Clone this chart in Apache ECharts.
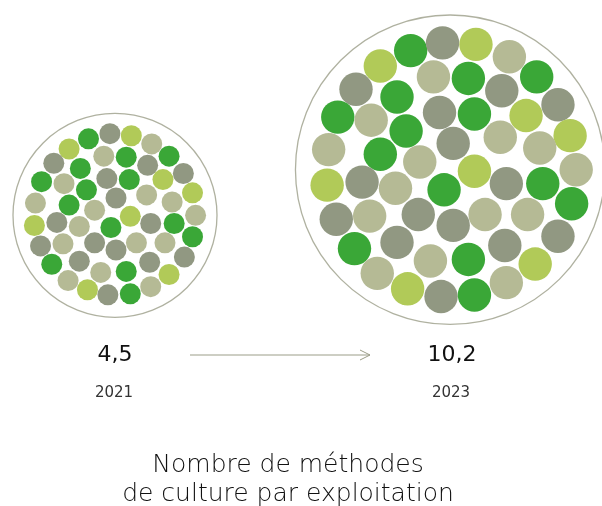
<!DOCTYPE html>
<html><head><meta charset="utf-8">
<script src="https://cdn.jsdelivr.net/npm/echarts@6/dist/echarts.min.js"></script>
<style>html,body{margin:0;padding:0;background:#fff}#c{width:602px;height:506px}</style>
</head><body><div id="c"></div>
<script>
// ---- data ----
const years = ['2021', '2023'];
const values = [4.5, 10.2];
const titleLines = ['Nombre de méthodes', 'de culture par exploitation'];

// dot layouts, in units of each circle's radius (x right, y down)
const dots2021X = [-0.26,-0.05,0.16,0.36,-0.45,-0.60,-0.11,0.11,0.53,0.32,0.67,-0.34,-0.72,-0.50,-0.08,0.14,0.47,-0.28,-0.78,-0.45,0.01,0.31,0.56,0.76,-0.20,0.15,-0.79,-0.57,-0.35,-0.04,0.35,0.58,0.79,-0.73,-0.51,-0.20,0.01,0.21,0.49,0.76,-0.62,-0.35,-0.14,0.11,0.34,0.68,0.53,-0.46,-0.27,-0.07,0.15,0.35];
const dots2021Y = [-0.75,-0.80,-0.78,-0.70,-0.65,-0.51,-0.58,-0.57,-0.58,-0.49,-0.41,-0.46,-0.33,-0.31,-0.36,-0.35,-0.35,-0.25,-0.12,-0.10,-0.17,-0.20,-0.13,-0.22,-0.05,0.01,0.10,0.07,0.11,0.12,0.08,0.08,0.00,0.30,0.28,0.27,0.34,0.27,0.27,0.21,0.48,0.45,0.56,0.55,0.46,0.41,0.58,0.64,0.73,0.78,0.77,0.70];
const dots2021Type = 'DGLBLGBDDGGDDBGDLDBDGBBLBLLGBDGDBGBGGBBDDGBDGGLBLGDB'.split('');

const dots2023X = [-0.26,-0.05,0.17,0.39,-0.46,-0.11,0.12,0.57,-0.62,-0.35,0.34,0.71,-0.74,-0.52,-0.07,0.16,0.50,-0.29,0.02,0.33,0.79,-0.80,-0.46,0.59,-0.20,0.16,0.83,-0.81,-0.58,-0.36,-0.04,0.37,0.61,0.80,-0.75,-0.53,-0.21,0.02,0.23,0.51,0.71,-0.63,-0.35,-0.13,0.12,0.36,0.56,-0.48,-0.28,-0.06,0.16,0.37];
const dots2023Y = [-0.77,-0.82,-0.81,-0.73,-0.67,-0.60,-0.59,-0.60,-0.52,-0.47,-0.51,-0.42,-0.34,-0.32,-0.37,-0.36,-0.35,-0.25,-0.17,-0.21,-0.22,-0.13,-0.10,-0.14,-0.05,0.01,0.00,0.10,0.08,0.12,0.13,0.09,0.09,0.22,0.32,0.30,0.29,0.36,0.29,0.29,0.43,0.51,0.47,0.59,0.58,0.49,0.61,0.67,0.77,0.82,0.81,0.73];
const dots2023Type = 'DGLBLBDDGDGGDBGDLDGBLBDBBLBLGBDGDDGBGGBBGDGBDGLBLGDB'.split('');

// ---- styles ----
const palette = { D: '#3aa737', L: '#b1ca58', G: '#919882', B: '#b5ba95' };
const ringColor = '#9b9d88';
const FONT = '"DejaVu Sans", sans-serif';

function dots(xs, ys, types) {
  return xs.map((x, i) => ({ value: [x, ys[i]], itemStyle: { color: palette[types[i]] } }));
}
function fmt(v) { return v.toFixed(1).replace('.', ','); }

const circles = [
  { left: 13, top: 113.3, size: 204, dot: 21, xs: dots2021X, ys: dots2021Y, t: dots2021Type },
  { left: 298.3, top: 15, size: 309.4, dot: 33.4, xs: dots2023X, ys: dots2023Y, t: dots2023Type }
];

const chart = echarts.init(document.getElementById('c'), null, { renderer: 'canvas' });
const option = {
  animation: false,
  backgroundColor: '#ffffff',
  grid: circles.map(c => ({ left: c.left, top: c.top, width: c.size, height: c.size })),
  xAxis: circles.map((c, i) => ({ gridIndex: i, type: 'value', min: -1, max: 1, show: false })),
  yAxis: circles.map((c, i) => ({ gridIndex: i, type: 'value', min: -1, max: 1, inverse: true, show: false })),
  series: [].concat(...circles.map((c, i) => [
    { type: 'scatter', xAxisIndex: i, yAxisIndex: i, clip: false, silent: true, z: 1,
      symbolSize: c.size, data: [[0, 0]],
      itemStyle: { color: 'rgba(0,0,0,0)', borderColor: ringColor, borderWidth: 1.3 } },
    { type: 'scatter', xAxisIndex: i, yAxisIndex: i, clip: false, silent: true, z: 2,
      symbolSize: c.dot, data: dots(c.xs, c.ys, c.t), itemStyle: { opacity: 1 } }
  ])),
  graphic: [
    { type: 'text', x: 115, y: 355, style: { text: fmt(values[0]), font: '500 22px ' + FONT, fill: '#111', align: 'center', verticalAlign: 'middle' } },
    { type: 'text', x: 452, y: 355, style: { text: fmt(values[1]), font: '500 22px ' + FONT, fill: '#111', align: 'center', verticalAlign: 'middle' } },
    { type: 'text', x: 114, y: 393, style: { text: years[0], font: 'normal 15px ' + FONT, fill: '#333', align: 'center', verticalAlign: 'middle' } },
    { type: 'text', x: 451, y: 393, style: { text: years[1], font: 'normal 15px ' + FONT, fill: '#333', align: 'center', verticalAlign: 'middle' } },
    { type: 'line', shape: { x1: 190, y1: 355, x2: 370, y2: 355 }, style: { stroke: ringColor, lineWidth: 1 } },
    { type: 'polyline', shape: { points: [[360, 350], [370, 355], [360, 360]] }, style: { stroke: ringColor, lineWidth: 1, fill: null } },
    { type: 'text', x: 288, y: 480, style: { text: titleLines.join('\n'), font: '200 25px ' + FONT, lineHeight: 29, fill: '#111', align: 'center', verticalAlign: 'middle' } }
  ]
};
chart.setOption(option);
</script></body></html>
